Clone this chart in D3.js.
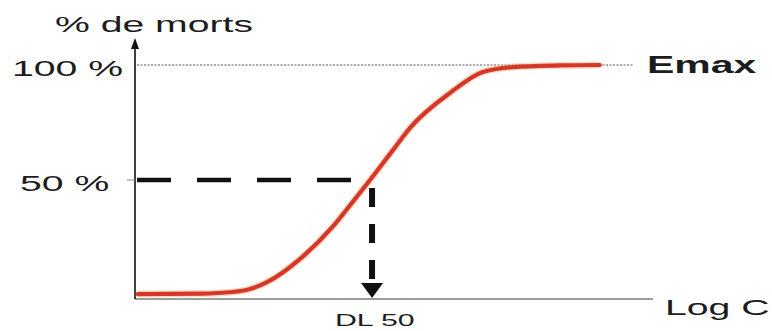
<!DOCTYPE html>
<html>
<head>
<meta charset="utf-8">
<script src="https://cdn.jsdelivr.net/npm/d3@7"></script>
<style>
  html, body { margin: 0; padding: 0; background: #fff; }
  svg { display: block; }
  text { font-family: "Liberation Sans", Arial, sans-serif; fill: #1c1c1c; }
</style>
</head>
<body>
<svg id="chart" width="772" height="331"></svg>
<script>
// Dose-response curve: log concentration vs. % mortality
const logC = [0.05, 1.25, 1.88, 2.21, 2.54, 3.17, 3.81, 4.17, 4.52, 4.96, 5.29, 6.06, 6.69, 7.27, 8.17, 8.94];
const mortality = [0.4, 0.6, 1.3, 2.6, 5.6, 15.6, 29.9, 40, 50, 63, 72.7, 87.9, 97, 99.1, 99.8, 100];
const yTickValues = [50, 100];
const yTickLabels = ["50 %", "100 %"];
const dl50 = 4.52;
const emax = 100;
const xMax = 10;

const svg = d3.select("#chart");
const x = d3.scaleLinear().domain([0, xMax]).range([135, 655]);
const y = d3.scaleLinear().domain([0, 100]).range([295, 65]);
const axisY = 299;
const stretch = 1.78; // wide lettering

function label(txt, tx, ty, size, weight) {
  svg.append("text")
    .attr("transform", `translate(${tx},${ty}) scale(${stretch},1)`)
    .attr("font-size", size)
    .attr("font-weight", weight || "normal")
    .text(txt);
}

// Emax reference (dotted)
svg.append("line")
  .attr("x1", x(0) + 2).attr("x2", 633)
  .attr("y1", y(emax)).attr("y2", y(emax))
  .attr("stroke", "#555").attr("stroke-width", 1)
  .attr("stroke-dasharray", "2,1.5");

// 50% horizontal dashed guide
svg.append("line")
  .attr("x1", x(0) + 2).attr("x2", x(dl50) - 19)
  .attr("y1", y(50)).attr("y2", y(50))
  .attr("stroke", "#111").attr("stroke-width", 4.5)
  .attr("stroke-dasharray", "34,26");

// X axis (grey)
svg.append("line")
  .attr("x1", x(0)).attr("x2", x(xMax) - 2)
  .attr("y1", axisY).attr("y2", axisY)
  .attr("stroke", "#9c9c9c").attr("stroke-width", 2);

// Y axis with arrow
svg.append("line")
  .attr("x1", x(0)).attr("x2", x(0))
  .attr("y1", axisY).attr("y2", 46)
  .attr("stroke", "#111").attr("stroke-width", 1.6);
svg.append("path")
  .attr("d", d3.line()([[x(0) - 4, 49], [x(0), 38], [x(0) + 4, 49]]) + "Z")
  .attr("fill", "#111");

// Y tick at 50 %
svg.append("line")
  .attr("x1", x(0) - 8).attr("x2", x(0))
  .attr("y1", y(50)).attr("y2", y(50))
  .attr("stroke", "#888").attr("stroke-width", 1);

// Dose-response curve
const line = d3.line()
  .x((d, i) => x(logC[i]))
  .y(d => y(d))
  .curve(d3.curveMonotoneX);
svg.append("path")
  .attr("d", line(mortality))
  .attr("fill", "none")
  .attr("stroke", "#f4b27a").attr("stroke-opacity", 0.45)
  .attr("stroke-width", 7);
svg.append("path")
  .attr("d", line(mortality))
  .attr("fill", "none")
  .attr("stroke", "#d5382a")
  .attr("stroke-width", 4.2)
  .attr("stroke-linecap", "round");

// DL50 vertical dashed arrow
svg.append("line")
  .attr("x1", x(dl50) + 2).attr("x2", x(dl50) + 2)
  .attr("y1", y(50) + 8).attr("y2", 281)
  .attr("stroke", "#111").attr("stroke-width", 6)
  .attr("stroke-dasharray", "19,17");
svg.append("path")
  .attr("d", d3.line()([[x(dl50) - 9, 283], [x(dl50) + 2, 298], [x(dl50) + 13, 283]]) + "Z")
  .attr("fill", "#111");

// Labels
label("% de morts", 55, 32, 22);
yTickValues.forEach((v, i) => {
  const w = yTickLabels[i].length > 4 ? 12 : 20;
  label(yTickLabels[i], w, y(v) + 11, 22);
});
label("Emax", 647, 73, 23, "bold");
label("Log C", 665, 315, 22);
label("DL 50", 335, 326, 17);
</script>
</body>
</html>
